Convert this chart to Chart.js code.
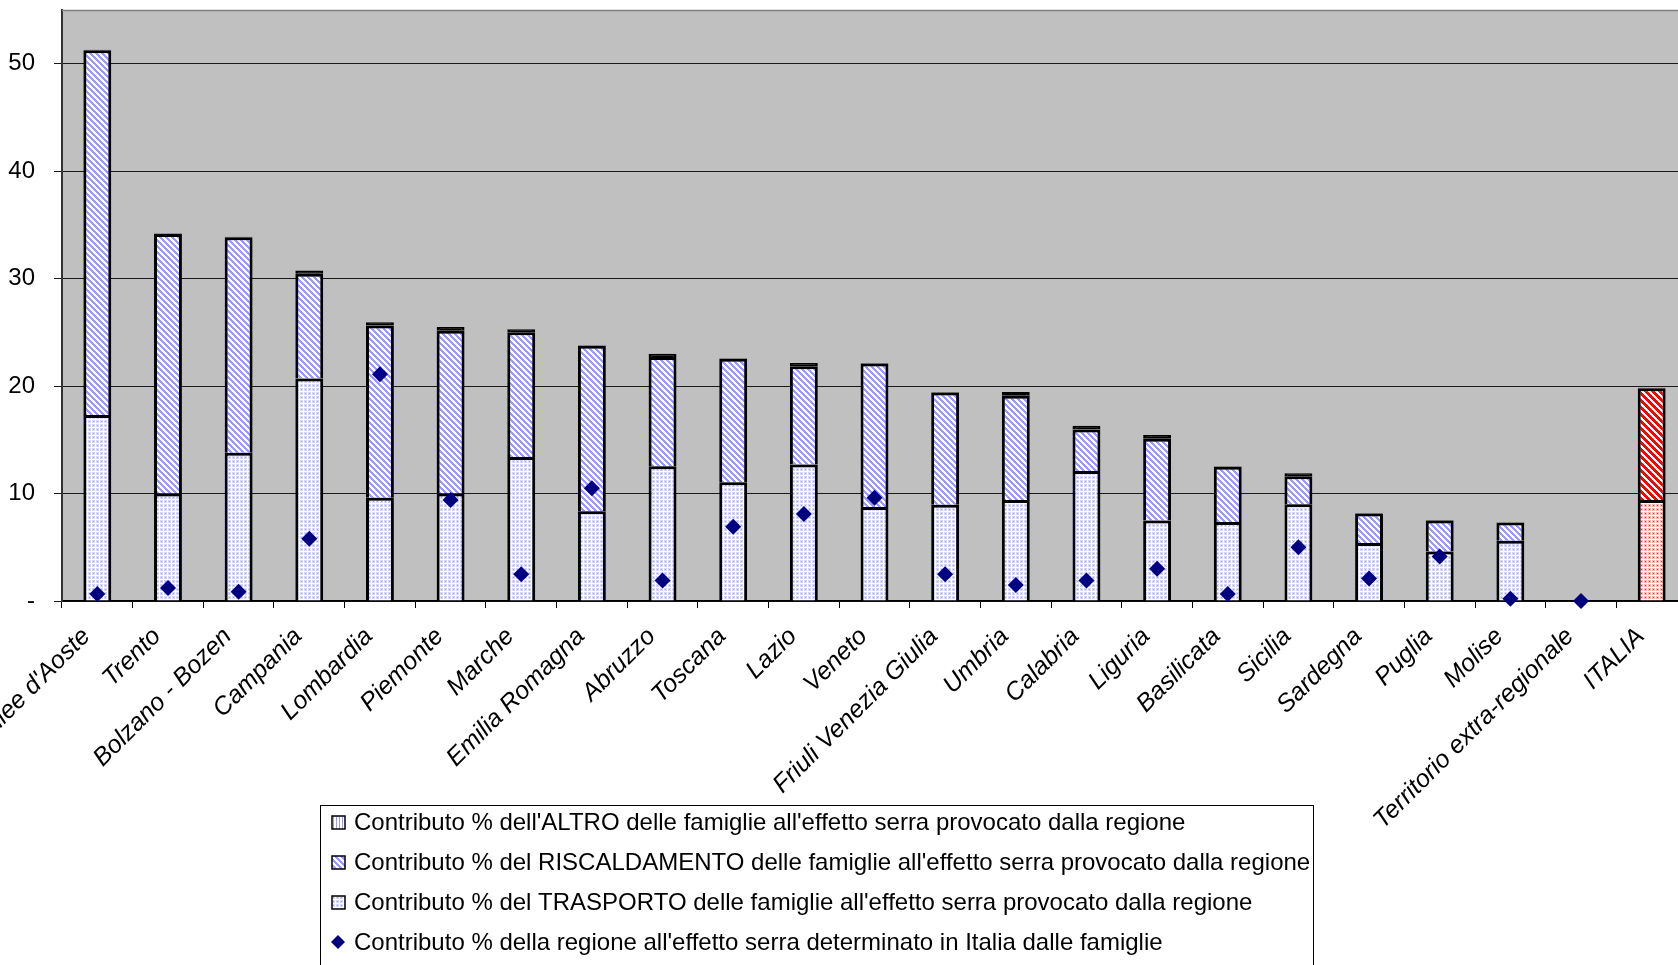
<!DOCTYPE html>
<html><head><meta charset="utf-8">
<script src="https://cdn.jsdelivr.net/npm/chart.js@4/dist/chart.umd.min.js"></script>
<style>
html,body{margin:0;padding:0;overflow:hidden;background:#fff;width:1678px;height:965px}
canvas{display:block}
</style></head>
<body>
<canvas id="c" width="1700" height="965"></canvas>
<script>
// ---- data ----
const categories = ["Vallee d'Aoste","Trento","Bolzano - Bozen","Campania","Lombardia","Piemonte","Marche","Emilia Romagna","Abruzzo","Toscana","Lazio","Veneto","Friuli Venezia Giulia","Umbria","Calabria","Liguria","Basilicata","Sicilia","Sardegna","Puglia","Molise","Territorio extra-regionale","ITALIA"];
const trasporto      = [17.3,10.0,13.8,20.7, 9.6,10.0,13.4, 8.35,12.55,11.05,12.7, 8.75, 8.95,9.4,12.1,7.5,7.35,9.0,5.4,4.6,5.6,null,9.4];
const riscaldamento  = [33.95,24.15,20.05, 9.75,16.05,15.15,11.6,15.4,10.15,11.5,9.15,13.35,10.45,9.7,3.85,7.6,5.15,2.6,2.75,2.9,1.7,null,10.4];
const altro          = [0.05,0.05,0.05,0.3,0.3,0.35,0.3,0.05,0.3,0.05,0.3,0.05,0.05,0.35,0.35,0.35,0.03,0.3,0.03,0.03,0.03,null,0.05];
const contributoRegione = [0.65,1.2,0.85,5.8,21.1,9.4,2.5,10.5,1.9,6.9,8.1,9.6,2.5,1.5,1.9,3.0,0.65,5.0,2.1,4.15,0.2,0.0,null];
const yTickValues = [0,10,20,30,40,50];
const yTickLabels = ['-','10','20','30','40','50'];
const labelAltro = "Contributo % dell'ALTRO delle famiglie all'effetto serra provocato dalla regione";
const labelRisc  = "Contributo % del RISCALDAMENTO delle famiglie all'effetto serra provocato dalla regione";
const labelTrasp = "Contributo % del TRASPORTO delle famiglie all'effetto serra provocato dalla regione";
const labelReg   = "Contributo % della regione all'effetto serra determinato in Italia dalle famiglie";
const highlightCategory = "ITALIA";

// ---- patterns ----
function tile(w, h, painter) {
  const c = document.createElement('canvas'); c.width = w; c.height = h;
  const g = c.getContext('2d'); painter(g, w, h);
  return g.createPattern(c, 'repeat');
}
function dots(light, dark) {
  return tile(4, 4, (g) => {
    g.fillStyle = '#ffffff'; g.fillRect(0,0,4,4);
    g.fillStyle = light; g.fillRect(0,0,3,3);
    g.fillStyle = dark; g.fillRect(1,1,1,1);
  });
}
function diag(color, p) {
  return tile(p, p, (g) => {
    g.fillStyle = '#ffffff'; g.fillRect(0,0,p,p);
    g.fillStyle = color;
    for (let x = 0; x < p; x++) for (let y = 0; y < p; y++)
      if (((x - y) % p + p) % p < p / 2) g.fillRect(x, y, 1, 1);
  });
}
function vert(color) {
  return tile(3, 1, (g) => {
    g.fillStyle = '#ffffff'; g.fillRect(0,0,3,1);
    g.fillStyle = color; g.fillRect(0,0,1,1);
  });
}
const blueDots = dots('#d8d8fb', '#a0a0f6');
const redDots  = dots('#ffb4b4', '#ff2020');
const blueDiag = diag('#9999ff', 6);
const redDiag  = diag('#ff0000', 7);
const blueVert = vert('#9999ff');
const perBar = (normal, hi) => categories.map(c => c === highlightCategory ? hi : normal);

// ---- plugins ----
const plotBg = {
  id: 'plotBg',
  beforeDraw(chart) {
    const {ctx, chartArea: a} = chart;
    ctx.save(); ctx.fillStyle = '#c0c0c0';
    ctx.fillRect(a.left, a.top, a.right - a.left, a.bottom - a.top);
    ctx.restore();
  },
  afterDatasetsDraw(chart) {
    const {ctx, chartArea: a} = chart;
    ctx.save(); ctx.strokeStyle = '#808080'; ctx.lineWidth = 1.5;
    ctx.beginPath(); ctx.moveTo(a.left, a.top + 0.5); ctx.lineTo(a.right, a.top + 0.5); ctx.stroke();
    ctx.restore();
  }
};
const boxLegend = {
  id: 'boxLegend',
  afterDraw(chart) {
    const ctx = chart.ctx;
    const items = [
      {text: labelAltro, fill: blueVert},
      {text: labelRisc, fill: blueDiag},
      {text: labelTrasp, fill: blueDots},
      {text: labelReg, diamond: true}
    ];
    ctx.save();
    ctx.strokeStyle = '#000'; ctx.lineWidth = 1;
    ctx.strokeRect(320.5, 805.5, 993, 200);
    ctx.font = '24px "Liberation Sans", Arial, sans-serif';
    ctx.textBaseline = 'middle'; ctx.fillStyle = '#000';
    items.forEach((it, i) => {
      const cy = 822 + i * 40;
      if (it.diamond) {
        ctx.fillStyle = '#000080';
        ctx.beginPath(); ctx.moveTo(338, cy - 7); ctx.lineTo(345, cy); ctx.lineTo(338, cy + 7); ctx.lineTo(331, cy); ctx.closePath(); ctx.fill();
      } else {
        ctx.fillStyle = it.fill; ctx.fillRect(332, cy - 6, 13, 13);
        ctx.strokeStyle = '#000'; ctx.lineWidth = 1.5; ctx.strokeRect(332, cy - 6, 13, 13);
      }
      ctx.fillStyle = '#000';
      ctx.fillText(it.text, 354, cy + 1);
    });
    ctx.restore();
  }
};

new Chart(document.getElementById('c'), {
  data: {
    labels: categories,
    datasets: [
      {type: 'line', label: labelReg, data: contributoRegione, showLine: false, pointStyle: 'rectRot',
       pointRadius: 8, pointHoverRadius: 8, pointBackgroundColor: '#000080', pointBorderColor: '#000080',
       pointBorderWidth: 0, clip: false, order: 0},
      {type: 'bar', label: labelTrasp, data: trasporto, backgroundColor: perBar(blueDots, redDots),
       borderColor: '#000', borderWidth: 3, order: 1},
      {type: 'bar', label: labelRisc, data: riscaldamento, backgroundColor: perBar(blueDiag, redDiag),
       borderColor: '#000', borderWidth: 3, order: 1},
      {type: 'bar', label: labelAltro, data: altro, backgroundColor: '#000000',
       borderColor: '#000', borderWidth: 3, order: 1}
    ]
  },
  options: {
    responsive: false,
    animation: false,
    devicePixelRatio: 1,
    layout: {padding: {top: 10, right: 13, left: 0, bottom: 0}},
    datasets: {bar: {categoryPercentage: 1, barPercentage: 0.395}},
    plugins: {legend: {display: false}, tooltip: {enabled: false}},
    scales: {
      x: {
        stacked: true,
        offset: true,
        grid: {offset: true, drawOnChartArea: false, drawTicks: true, tickLength: 7, color: '#000', lineWidth: 1},
        border: {color: '#000', width: 1.5},
        ticks: {autoSkip: false, maxRotation: 45, minRotation: 45, padding: 14, labelOffset: -11, color: '#000',
                font: {family: '"Liberation Sans", Arial, sans-serif', size: 25, style: 'italic'}},
        afterFit(s) { s.height = 364; s.paddingLeft = 0; s.paddingRight = 0; }
      },
      y: {
        stacked: true,
        min: 0, max: 55,
        afterBuildTicks(s) { s.ticks = yTickValues.map(v => ({value: v})); },
        grid: {color: '#1a1a1a', lineWidth: 1, tickLength: 8, drawTicks: true},
        border: {color: '#333', width: 2},
        ticks: {padding: 19, color: '#000',
                font: {family: '"Liberation Sans", Arial, sans-serif', size: 24},
                callback: (v) => { const i = yTickValues.indexOf(v); return i >= 0 ? yTickLabels[i] : ''; }},
        afterFit(s) { s.width = 62; s.paddingTop = 0; s.paddingBottom = 0; }
      }
    }
  },
  plugins: [plotBg, boxLegend]
});
</script>
</body></html>
